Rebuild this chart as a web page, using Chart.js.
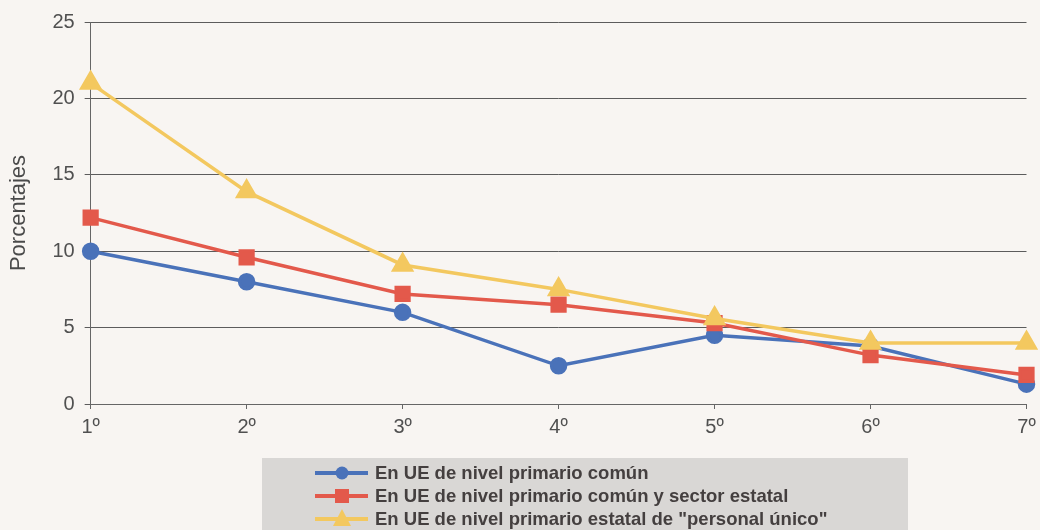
<!DOCTYPE html>
<html>
<head>
<meta charset="utf-8">
<script src="https://cdn.jsdelivr.net/npm/chart.js@4/dist/chart.umd.min.js"></script>
<style>
  body { margin: 0; background: #f8f5f2; font-family: "Liberation Sans", Arial, sans-serif; }
  #wrap { position: relative; width: 1040px; height: 530px; }
  #chartBox { position: absolute; left: 0; top: 0; width: 1040px; height: 445px; }
  #legend {
    position: absolute; left: 262px; top: 458px; width: 646px; height: 72px;
    background: #d9d7d5; box-sizing: border-box; padding: 3px 0 0 53px;
  }
  .item { display: flex; align-items: center; height: 23px; font-weight: bold; font-size: 18.5px; color: #443f3f; }
  .item canvas { margin-right: 7px; }
</style>
</head>
<body>
<div id="wrap">
  <div id="chartBox"><canvas id="graf"></canvas></div>
  <div id="legend"></div>
</div>
<script>
// données
const grados = ['1º', '2º', '3º', '4º', '5º', '6º', '7º'];
const primarioComun = [10.0, 8.0, 6.0, 2.5, 4.5, 3.8, 1.3];
const comunEstatal = [12.2, 9.6, 7.2, 6.5, 5.3, 3.2, 1.9];
const personalUnico = [21.0, 13.9, 9.1, 7.5, 5.6, 4.0, 4.0];
const nombres = [
  'En UE de nivel primario común',
  'En UE de nivel primario común y sector estatal',
  'En UE de nivel primario estatal de "personal único"'
];

const azul = '#4a72b9';
const rojo = '#e3594b';
const amarillo = '#f3c85f';

const ctx = document.getElementById('graf').getContext('2d');
const chart = new Chart(ctx, {
  type: 'line',
  data: {
    labels: grados,
    datasets: [
      { label: nombres[0], data: primarioComun, borderColor: azul, backgroundColor: azul,
        borderWidth: 3.5, pointStyle: 'circle', pointRadius: 7 },
      { label: nombres[1], data: comunEstatal, borderColor: rojo, backgroundColor: rojo,
        borderWidth: 3.5, pointStyle: 'rect', pointRadius: 9 },
      { label: nombres[2], data: personalUnico, borderColor: amarillo, backgroundColor: amarillo,
        borderWidth: 3.5, pointStyle: 'triangle', pointRadius: 10 }
    ].reverse()
  },
  options: {
    responsive: true,
    maintainAspectRatio: false,
    animation: false,
    layout: { padding: { top: 12, right: 0, left: 6 } },
    plugins: { legend: { display: false }, tooltip: { enabled: false } },
    scales: {
      x: {
        offset: false,
        // le dernier label déborde un peu à droite comme sur l'original
        afterFit: (scale) => { scale.paddingRight = 11; },
        grid: { drawOnChartArea: false, drawTicks: true, tickLength: 5, color: '#666' },
        border: { color: '#666', width: 1 },
        ticks: { color: '#505050', font: { size: 20, family: 'Liberation Sans' }, padding: 6 }
      },
      y: {
        min: 0, max: 25,
        ticks: { stepSize: 5, color: '#505050', font: { size: 20, family: 'Liberation Sans' }, padding: 10 },
        grid: { color: '#5c5c5c', lineWidth: 1, tickLength: 6 },
        border: { color: '#666', width: 1 },
        title: { display: true, text: 'Porcentajes', color: '#4a4a4a',
                 font: { size: 22, family: 'Liberation Sans' }, padding: { top: 0, bottom: 10 } }
      }
    }
  }
});

// légende faite à la main (liste verticale)
const legend = document.getElementById('legend');
const couleurs = [azul, rojo, amarillo];
const formes = ['circle', 'rect', 'triangle'];
nombres.forEach((nom, i) => {
  let div = document.createElement('div');
  div.className = 'item';
  let c = document.createElement('canvas');
  c.width = 53; c.height = 22;
  let g = c.getContext('2d');
  g.strokeStyle = couleurs[i];
  g.fillStyle = couleurs[i];
  g.lineWidth = 4;
  g.beginPath(); g.moveTo(0, 11); g.lineTo(53, 11); g.stroke();
  g.beginPath();
  if (formes[i] === 'circle') g.arc(27, 11, 6.5, 0, Math.PI * 2);
  else if (formes[i] === 'rect') g.rect(20, 4, 14, 14);
  else { g.moveTo(27, 1); g.lineTo(36, 18); g.lineTo(18, 18); g.closePath(); }
  g.fill();
  div.appendChild(c);
  let span = document.createElement('span');
  span.textContent = nom;
  div.appendChild(span);
  legend.appendChild(div);
});
</script>
</body>
</html>
